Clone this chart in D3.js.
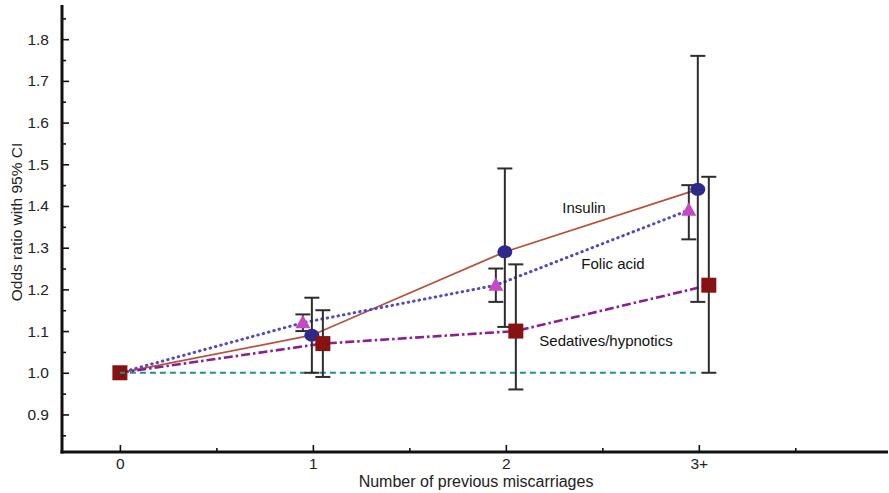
<!DOCTYPE html>
<html>
<head>
<meta charset="utf-8">
<script src="https://cdn.jsdelivr.net/npm/d3@7/dist/d3.min.js"></script>
<style>
  html, body { margin: 0; padding: 0; background: #fff; }
  svg { display: block; font-family: "Liberation Sans", Arial, Helvetica, sans-serif; }
</style>
</head>
<body>
<svg id="chart" width="889" height="493"></svg>
<script>
// Categories on the x axis
const categories = ["0", "1", "2", "3+"];

// Odds ratios and 95% confidence intervals per exposure
const insulinOR   = [1.00, 1.09, 1.29, 1.44];
const insulinLo   = [null, 1.00, 1.11, 1.17];
const insulinHi   = [null, 1.18, 1.49, 1.76];

const folicOR     = [1.00, 1.12, 1.21, 1.39];
const folicLo     = [null, 1.10, 1.17, 1.32];
const folicHi     = [null, 1.14, 1.25, 1.45];

const sedativeOR  = [1.00, 1.07, 1.10, 1.21];
const sedativeLo  = [null, 0.99, 0.96, 1.00];
const sedativeHi  = [null, 1.15, 1.26, 1.47];

const referenceOR = [1.00, 1.00, 1.00, 1.00];

const yTicks = [0.9, 1.0, 1.1, 1.2, 1.3, 1.4, 1.5, 1.6, 1.7, 1.8];
const yMinorTicks = [0.85, 0.95, 1.05, 1.15, 1.25, 1.35, 1.45, 1.55, 1.65, 1.75, 1.85];
const xMinorTicks = [0.5, 1.5, 2.5, 3.5];

const seriesLabels = ["Insulin", "Folic acid", "Sedatives/hypnotics"];

const svg = d3.select("#chart");

const x = d3.scaleLinear().domain([-0.3, 3.97]).range([62, 886]);
const y = d3.scaleLinear().domain([0.81, 1.882]).range([452, 5]);

// Series definitions: data, style and small horizontal dodge (px) so the CIs don't overlap
const series = [
  { or: insulinOR,  lo: insulinLo,  hi: insulinHi,  dodge: -1,
    line: "#b7533d", width: 1.8, dash: null, cap: "butt", marker: "circle", fill: "#2e2a8c" },
  { or: folicOR,    lo: folicLo,    hi: folicHi,    dodge: -10,
    line: "#5149c4", width: 3, dash: "0.5,5", cap: "round", marker: "triangle", fill: "#c44bc4" },
  { or: sedativeOR, lo: sedativeLo, hi: sedativeHi, dodge: 10,
    line: "#8a1f8f", width: 2.6, dash: "9,3,2.5,3", cap: "butt", marker: "square", fill: "#861313" }
];

const px = (i, s) => x(i) + (i === 0 ? 0 : s.dodge);

// Reference line at OR = 1
svg.append("path")
  .datum(referenceOR)
  .attr("fill", "none")
  .attr("stroke", "#21908e")
  .attr("stroke-width", 2.2)
  .attr("stroke-dasharray", "6,4")
  .attr("d", d3.line().x((d, i) => x(i)).y(d => y(d)));

// Connecting lines
series.forEach(s => {
  svg.append("path")
    .datum(s.or)
    .attr("fill", "none")
    .attr("stroke", s.line)
    .attr("stroke-width", s.width)
    .attr("stroke-dasharray", s.dash)
    .attr("stroke-linecap", s.cap)
    .attr("d", d3.line().x((d, i) => px(i, s)).y(d => y(d)));
});

// Error bars
const capHalf = 7.5;
series.forEach(s => {
  const g = svg.append("g").attr("stroke", "#2d2d2d").attr("stroke-width", 2);
  s.or.forEach((d, i) => {
    if (s.lo[i] == null) return;
    const cx = px(i, s);
    g.append("line").attr("x1", cx).attr("x2", cx).attr("y1", y(s.lo[i])).attr("y2", y(s.hi[i]));
    g.append("line").attr("x1", cx - capHalf).attr("x2", cx + capHalf).attr("y1", y(s.lo[i])).attr("y2", y(s.lo[i]));
    g.append("line").attr("x1", cx - capHalf).attr("x2", cx + capHalf).attr("y1", y(s.hi[i])).attr("y2", y(s.hi[i]));
  });
});

// Markers (the shared reference point at 0 is drawn once as a square)
series.forEach(s => {
  s.or.forEach((d, i) => {
    if (i === 0 && s.marker !== "square") return;
    const cx = px(i, s), cy = y(d);
    if (s.marker === "circle") {
      svg.append("ellipse").attr("cx", cx).attr("cy", cy).attr("rx", 7.5).attr("ry", 6.5)
        .attr("fill", s.fill);
    } else if (s.marker === "triangle") {
      svg.append("path")
        .attr("d", `M${cx},${cy - 8}L${cx + 7.5},${cy + 5.5}L${cx - 7.5},${cy + 5.5}Z`)
        .attr("fill", s.fill);
    } else {
      svg.append("rect").attr("x", cx - 7.5).attr("y", cy - 7.5).attr("width", 15).attr("height", 15)
        .attr("fill", s.fill);
    }
  });
});
// short teal dash showing over the reference square
svg.append("line").attr("x1", x(0)).attr("x2", x(0) + 5).attr("y1", y(1)).attr("y2", y(1))
  .attr("stroke", "#21908e").attr("stroke-width", 2);

// Axes
const axisColor = "#111";
const yAxis = d3.axisLeft(y).tickValues(yTicks).tickFormat(d3.format(".1f")).tickSize(-7).tickPadding(13);
const yMinor = d3.axisLeft(y).tickValues(yMinorTicks).tickFormat("").tickSize(-4);
const xAxis = d3.axisBottom(x).tickValues([0, 1, 2, 3]).tickFormat((d) => categories[d]).tickSize(-7).tickPadding(6);
const xMinor = d3.axisBottom(x).tickValues(xMinorTicks).tickFormat("").tickSize(-4);

function styleAxis(g) {
  g.select(".domain").remove();
  g.selectAll(".tick line").attr("stroke", axisColor).attr("stroke-width", 1.6);
  g.selectAll(".tick text").attr("fill", "#222").style("font-size", "15.5px")
    .style("font-family", "'Liberation Sans', Arial, sans-serif");
}

svg.append("g").attr("transform", "translate(62,0)").call(yMinor).call(styleAxis);
svg.append("g").attr("transform", "translate(62,0)").call(yAxis).call(styleAxis);
svg.append("g").attr("transform", "translate(0,452)").call(xMinor).call(styleAxis);
svg.append("g").attr("transform", "translate(0,452)").call(xAxis).call(styleAxis);

// Axis lines
svg.append("line").attr("x1", 62).attr("x2", 62).attr("y1", 5).attr("y2", 453.5)
  .attr("stroke", axisColor).attr("stroke-width", 3);
svg.append("line").attr("x1", 60.5).attr("x2", 888).attr("y1", 452).attr("y2", 452)
  .attr("stroke", axisColor).attr("stroke-width", 3);

// Axis titles
svg.append("text")
  .attr("x", 476).attr("y", 487)
  .attr("text-anchor", "middle")
  .attr("fill", "#222")
  .style("font-size", "16px")
  .text("Number of previous miscarriages");

svg.append("text")
  .attr("transform", "translate(22,222) rotate(-90)")
  .attr("text-anchor", "middle")
  .attr("fill", "#222")
  .style("font-size", "15.5px")
  .text("Odds ratio with 95% CI");

// Series labels
const labelPos = [[584, 213], [613, 269], [606, 346]];
seriesLabels.forEach((t, i) => {
  svg.append("text")
    .attr("x", labelPos[i][0]).attr("y", labelPos[i][1])
    .attr("text-anchor", "middle")
    .attr("fill", "#111")
    .style("font-size", "15px")
    .text(t);
});
</script>
</body>
</html>
